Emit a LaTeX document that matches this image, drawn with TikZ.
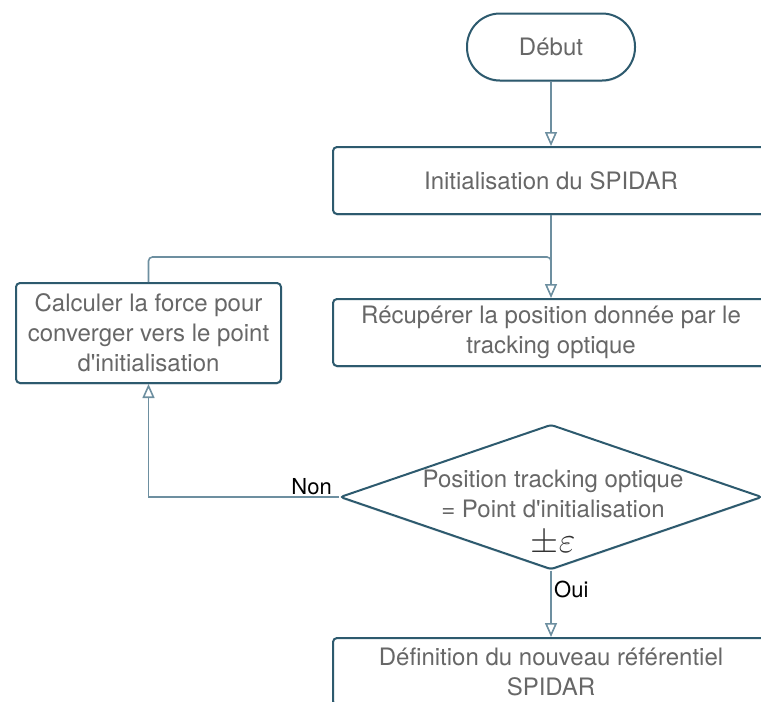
\documentclass[tikz,border=0pt]{standalone}
\usepackage{fontspec}
\setmainfont{TeX Gyre Heros}
\usepackage{tikz}
\usetikzlibrary{arrows.meta,shapes.geometric,shadows}
\definecolor{boxteal}{HTML}{2D5A6E}
\definecolor{linkslate}{HTML}{6D8FA0}
\definecolor{textgray}{HTML}{676767}
\definecolor{shadowgray}{HTML}{9AA6B0}
\tikzset{
  boxshadow/.style={drop shadow={shadow xshift=0pt, shadow yshift=-1.5pt, opacity=0.35, fill=shadowgray}},
  stepbox/.style={draw=boxteal, line width=2pt, rounded corners=4pt, fill=white, text=textgray, align=center, inner sep=0pt, minimum width=436pt, minimum height=67pt, font=\fontsize{24}{30}\selectfont, boxshadow},
  sidebox/.style={stepbox, minimum width=265pt, minimum height=100pt},
  startbox/.style={stepbox, rounded corners=33pt, minimum width=168pt},
  testbox/.style={diamond, draw=boxteal, line width=2pt, rounded corners=3pt, fill=white, inner sep=0pt, minimum width=422pt, minimum height=145pt, boxshadow},
  testtext/.style={text=textgray, align=center, inner sep=0pt, font=\fontsize{24}{30}\selectfont},
  flow/.style={linkslate, line width=1.6pt, -{Triangle[open, length=14pt, width=12pt, line width=1.6pt]}},
  link/.style={linkslate, line width=1.6pt, rounded corners=4pt},
  answer/.style={text=black, inner sep=1pt, font=\fontsize{22}{26}\selectfont}
}
\newcommand{\tol}{{\color{black!80}\scalebox{1.45}{$\pm\varepsilon$}}}
\begin{document}
\begin{tikzpicture}[x=1pt, y=-1pt]
  \clip (0,0) rectangle (761,702);
  \node[startbox] (start) at (551,47) {Début};
  \node[stepbox] (init) at (551,180.5) {Initialisation du SPIDAR};
  \node[stepbox] (recup) at (551,332.5) {Récupérer la position donnée par le\\tracking optique};
  \node[sidebox] (calc) at (148.5,333) {Calculer la force pour\\converger vers le point\\d\textquotesingle initialisation};
  \node[testbox] (test) at (551,497) {};
  \node[testtext] (testlabel) at (553,513) {Position tracking optique\\= Point d\textquotesingle initialisation\\[5pt]\tol};
  \node[stepbox] (def) at (551,671.5) {Définition du nouveau référentiel\\SPIDAR};
  \coordinate (join) at (551,257);
  \coordinate (joinlow) at (551,266);
  \node[answer, anchor=south east] (non) at ([xshift=-6pt, yshift=1pt]test.west) {Non};
  \node[answer, anchor=north west] (oui) at ([xshift=2pt, yshift=-9pt]test.south) {Oui};
  \draw[flow] (start) -- (init);
  \draw[flow] (init) -- (recup);
  \draw[link] (calc.north) -- (calc.north |- join) -- (join) -- (joinlow);
  \draw[flow] (test.west) -| (calc.south);
  \draw[flow] (test.south) -- (def.north);
\end{tikzpicture}
\end{document}
